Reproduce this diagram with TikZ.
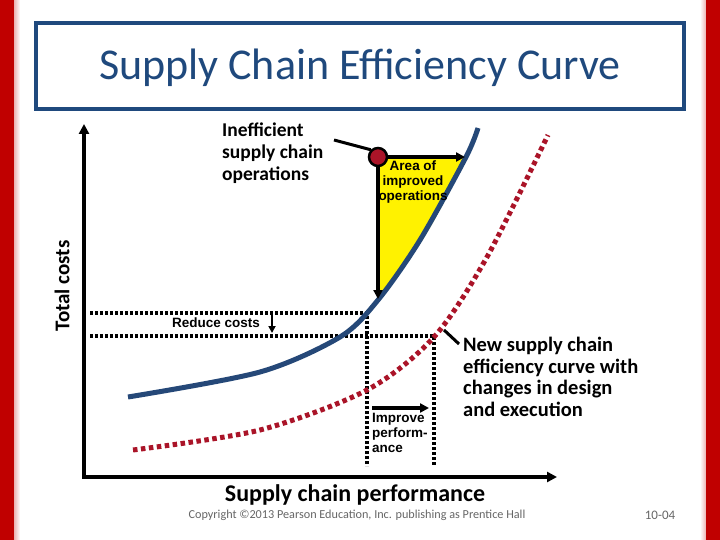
\documentclass[tikz,border=0pt]{standalone}
\usepackage{fontspec}
\setmainfont{Carlito}
\newfontfamily\arial{Liberation Sans}
\usetikzlibrary{arrows.meta}
\definecolor{tblue}{RGB}{31,73,125}
\definecolor{cblue}{RGB}{37,72,120}
\definecolor{dred}{RGB}{170,20,40}
\definecolor{bred}{RGB}{192,0,0}
\begin{document}
\begin{tikzpicture}[x=1pt,y=-1pt,
  ax/.style={line width=4pt,-{Triangle[length=10pt,width=10pt]}},
  arr/.style={line width=3.5pt,-{Triangle[length=9pt,width=9pt]}},
  dots/.style={line width=3.5pt,dash pattern=on 3pt off 2pt},
  lbl/.style={font=\arial\bfseries\fontsize{13.5}{15}\selectfont,align=left,inner sep=0pt}]
\useasboundingbox (0,0) rectangle (720,540);
\fill[white] (0,0) rectangle (720,540);
\shade[left color=bred,right color=white] (0,0) rectangle (20,540);
\fill[bred] (0,0) rectangle (14,540);
\shade[left color=white,right color=bred] (700,0) rectangle (720,540);
\fill[bred] (706,0) rectangle (720,540);
\node[draw=tblue,line width=3.5pt,minimum width=648pt,minimum height=86pt,inner sep=0pt] (title) at (360,66) {};
\node[text=tblue,font=\fontsize{44}{48}\selectfont] (tt) at (360,68) {Supply Chain Efficiency Curve};
% yellow area
\fill[yellow] (378,157) -- (466,157) .. controls (440,215) and (410,265) .. (378,300) -- cycle;
% dotted guides
\coordinate (h1a) at (90,313); \coordinate (h1b) at (367,313);
\coordinate (h2a) at (90,336); \coordinate (h2b) at (434,336);
\coordinate (v1b) at (367,466); \coordinate (v2b) at (434,466);
\draw[dots] (h1a) -- (h1b) -- (v1b);
\draw[dots] (h2a) -- (h2b) -- (v2b);
% curves
\draw[cblue,line width=5pt] plot[smooth] coordinates {(128,397) (260,372) (340,337) (378,300) (420,240) (466,157) (478,128)};
\draw[dred,line width=5pt,dash pattern=on 4.5pt off 3.5pt] plot[smooth] coordinates {(133,450) (260,430) (367,390) (434,337) (487,257) (548,135)};
% axes
\coordinate (o) at (84,477);
\coordinate (ytop) at (84,124);
\coordinate (xend) at (557,477);
\draw[ax] (o) -- (ytop);
\draw[ax] ([xshift=-2pt]o) -- (xend);
% dot and arrows
\node[circle,fill=dred,draw=black,line width=2.5pt,minimum size=18pt,inner sep=0pt] (dot) at (378,157) {};
\coordinate (rt) at (465,157); \coordinate (dn) at (378,299);
\draw[arr] (dot.east) -- (rt);
\draw[arr] (dot.south) -- (dn);
\coordinate (p1) at (334,140);
\draw[line width=3pt] (p1) -- (dot.north west);
\node[lbl,align=center] (area) at (413,182) {Area of\\improved\\operations};
\node[font=\bfseries\fontsize{19.5}{22}\selectfont,align=left,inner sep=0pt,anchor=north west] (ineff) at (222,123) {Inefficient\\supply chain\\operations};
% reduce / improve
\node[lbl,anchor=west] (red) at (172,323) {Reduce costs};
\coordinate (ra) at (272,314); \coordinate (rb) at (272,333);
\draw[line width=2pt,-{Triangle[length=7pt,width=7pt]}] (ra) -- (rb);
\coordinate (ia) at (372,408); \coordinate (ib) at (429,408);
\draw[arr] (ia) -- (ib);
\node[lbl,anchor=north west] (imp) at (372,413) {Improve\\perform-\\ance};
% new curve label
\coordinate (q1) at (444,330); \coordinate (q2) at (459,344);
\draw[line width=3pt] (q1) -- (q2);
\node[font=\bfseries\fontsize{20.5}{21.5}\selectfont,align=left,inner sep=0pt,anchor=north west] (new) at (463,337) {New supply chain\\efficiency curve with\\changes in design\\and execution};
% axis labels
\node[font=\bfseries\fontsize{21}{22}\selectfont,rotate=90] (yl) at (62,286) {Total costs};
\node[font=\bfseries\fontsize{24}{26}\selectfont] (xl) at (355,495) {Supply chain performance};
\node[text=black!60,font=\fontsize{12.2}{13}\selectfont] (copy) at (357,515) {Copyright ©2013 Pearson Education, Inc. publishing as Prentice Hall};
\node[text=black!60,font=\fontsize{13}{13}\selectfont] (pg) at (660,515) {10-04};
\end{tikzpicture}
\end{document}
